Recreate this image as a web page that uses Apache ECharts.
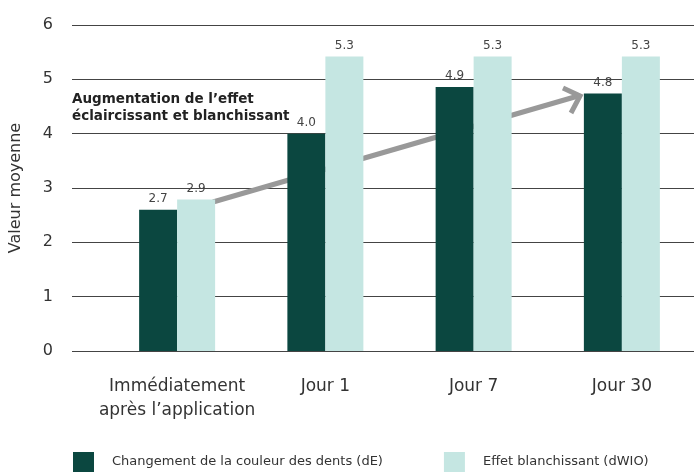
<!DOCTYPE html>
<html>
<head>
<meta charset="utf-8">
<script src="https://cdn.jsdelivr.net/npm/echarts@6/dist/echarts.min.js"></script>
<style>html,body{margin:0;padding:0;background:#fff}#c{width:696px;height:472px}</style>
</head>
<body>
<div id="c"></div>
<script>
const categories = ['Immédiatement\naprès l’application', 'Jour 1', 'Jour 7', 'Jour 30'];
const seriesNames = ['Changement de la couleur des dents (dE)', 'Effet blanchissant (dWIO)'];
const valuesDE = [2.6, 4.0, 4.86, 4.74];
const valuesDWIO = [2.79, 5.42, 5.42, 5.42];
const labelsDE = ['2.7', '4.0', '4.9', '4.8'];
const labelsDWIO = ['2.9', '5.3', '5.3', '5.3'];
const yTicks = [0, 1, 2, 3, 4, 5, 6];
const annotation = 'Augmentation de l’effet\néclaircissant et blanchissant';

const FONT = '"DejaVu Sans", sans-serif';
const chart = echarts.init(document.getElementById('c'));
const yAxisBase = { type: 'value', min: yTicks[0], max: yTicks[yTicks.length - 1], interval: 1 };

chart.setOption({
  animation: false,
  textStyle: { fontFamily: FONT },
  grid: [
    { left: 72, right: 2, top: 25, bottom: 121 },
    { left: 103, width: 600, top: 25, bottom: 121 }
  ],
  legend: {
    left: 73, top: 452, width: 640, padding: 0, itemWidth: 21, itemHeight: 20, itemGap: 61,
    icon: 'rect',
    textStyle: { fontSize: 13, color: '#333', fontFamily: FONT, padding: [2, 0, 0, 13] },
    data: seriesNames
  },
  xAxis: [
    { gridIndex: 0, type: 'value', min: 0, max: 1, show: false },
    {
      gridIndex: 1, type: 'category', data: categories,
      axisLine: { show: false }, axisTick: { show: false },
      axisLabel: { interval: 0, fontSize: 17, color: '#333', margin: 24, lineHeight: 24, fontFamily: FONT }
    }
  ],
  yAxis: [
    Object.assign({}, yAxisBase, {
      gridIndex: 0,
      name: 'Valeur moyenne', nameLocation: 'middle', nameGap: 48,
      nameTextStyle: { fontSize: 16, color: '#333', fontFamily: FONT },
      axisLine: { show: false }, axisTick: { show: false },
      axisLabel: { fontSize: 16, color: '#333', margin: 19, fontFamily: FONT },
      splitLine: { show: true, lineStyle: { color: '#444', width: 1 } }
    }),
    Object.assign({}, yAxisBase, { gridIndex: 1, show: false, splitLine: { show: false } })
  ],
  series: [
    {
      name: seriesNames[0], type: 'bar', xAxisIndex: 1, yAxisIndex: 1, z: 5,
      data: valuesDE, barWidth: 38, barGap: '0%',
      itemStyle: { color: '#0b4740' },
      label: { show: true, position: 'top', distance: 5, fontSize: 12, color: '#444',
        formatter: p => labelsDE[p.dataIndex] }
    },
    {
      name: seriesNames[1], type: 'bar', xAxisIndex: 1, yAxisIndex: 1, z: 5,
      data: valuesDWIO, barWidth: 38, barGap: '0%',
      itemStyle: { color: '#c5e6e2' },
      label: { show: true, position: 'top', distance: 5, fontSize: 12, color: '#444',
        formatter: p => labelsDWIO[p.dataIndex] }
    }
  ],
  graphic: {
    z: 3,
    elements: [
      {
        type: 'text', left: 72, top: 91, z: 10,
        style: { text: annotation, font: 'bold 13.5px ' + FONT, fill: '#222', lineHeight: 17 }
      },
      {
        type: 'polyline', z: 3,
        shape: { points: [[213, 202], [578, 96]] },
        style: { stroke: '#999', lineWidth: 5, fill: null }
      },
      {
        type: 'polyline', z: 3,
        shape: { points: [[563, 88], [580, 96], [571, 113]] },
        style: { stroke: '#999', lineWidth: 5, fill: null, lineJoin: 'miter' }
      }
    ]
  }
});
</script>
</body>
</html>
